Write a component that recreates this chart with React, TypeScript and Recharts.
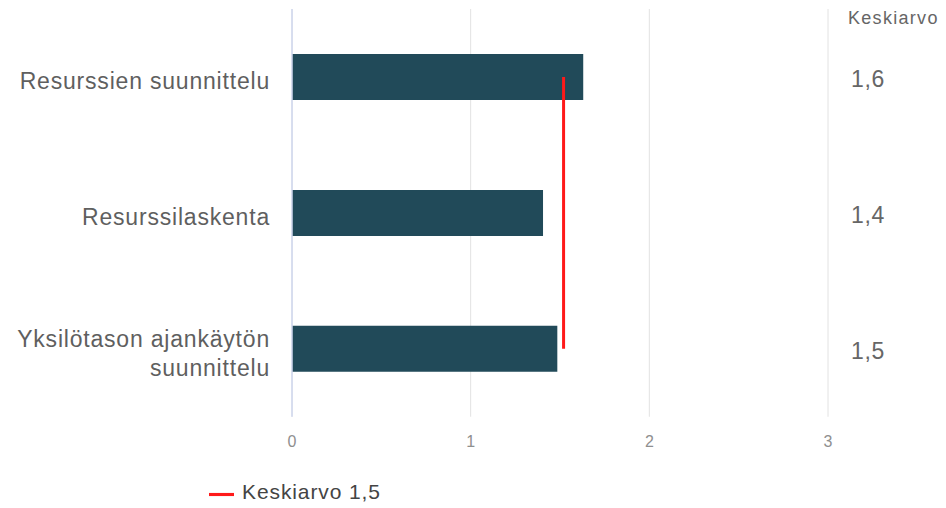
import React from 'react'
import {
  ComposedChart, Bar, Line, XAxis, YAxis, CartesianGrid, Legend
} from 'recharts'

const categories = [
  'Resurssien suunnittelu',
  'Resurssilaskenta',
  'Yksilötason ajankäytön suunnittelu',
]
const scores = [1.63, 1.405, 1.485]
const overallAverage = 1.52
const xTicks = [0, 1, 2, 3]

const chartData = categories.map((name, i) => ({
  name,
  value: scores[i],
  avg: overallAverage,
}))

const FONT = '"Liberation Sans", Arial, sans-serif'
const fmt = (v: number) => v.toFixed(1).replace('.', ',')

// simple greedy wrap by character count
const wrap = (s: string, max: number) => {
  const lines: string[] = []
  let cur = ''
  s.split(' ').forEach((w) => {
    const next = cur ? cur + ' ' + w : w
    if (next.length > max && cur) {
      lines.push(cur)
      cur = w
    } else {
      cur = next
    }
  })
  if (cur) lines.push(cur)
  return lines
}

const CategoryTick = (props: any) => {
  const { x, y, payload } = props
  const lines = wrap(String(payload.value), 24)
  const lh = 29
  const start = y + 4 - ((lines.length - 1) * lh) / 2
  return (
    <text
      x={x - 14}
      textAnchor="end"
      style={{ fontFamily: FONT, fontSize: 23, letterSpacing: 0.8, fill: '#5f5f5f' }}
    >
      {lines.map((l, i) => (
        <tspan key={i} x={x - 14} y={start + i * lh} dy="0.36em">{l}</tspan>
      ))}
    </text>
  )
}

const AvgTick = (props: any) => {
  const { x, y, index } = props
  return (
    <text
      x={x}
      y={y + 2}
      dy="0.36em"
      textAnchor="start"
      style={{ fontFamily: FONT, fontSize: 23, letterSpacing: 0.6, fill: '#666' }}
    >
      {fmt(scores[index] ?? 0)}
    </text>
  )
}

const HeaderLabel = (props: any) => {
  const { viewBox } = props
  return (
    <text
      x={viewBox.x + 20}
      y={viewBox.y + 15}
      style={{ fontFamily: FONT, fontSize: 18, letterSpacing: 1.3, fill: '#666' }}
    >
      Keskiarvo
    </text>
  )
}

export default function App() {
  return (
    <div
      style={{
        position: 'absolute',
        left: 0,
        top: 0,
        width: 946,
        height: 508,
        background: '#fff',
        fontFamily: FONT,
      }}
    >
      <ComposedChart
        width={946}
        height={508}
        data={chartData}
        layout="vertical"
        margin={{ top: 9, right: 0, left: 0, bottom: 1 }}
        style={{ fontFamily: FONT }}
      >
        <CartesianGrid horizontal={false} stroke="#e2e2e2" />
        <XAxis
          type="number"
          domain={[0, 3]}
          ticks={xTicks}
          axisLine={false}
          tickLine={false}
          tickMargin={13}
          height={63}
          tick={{ fontSize: 16, fill: '#8f8f8f', fontFamily: FONT }}
        />
        <YAxis
          type="category"
          dataKey="name"
          width={292}
          axisLine={{ stroke: '#cfd7ee', strokeWidth: 1.5 }}
          tickLine={false}
          tick={<CategoryTick />}
        />
        <YAxis
          yAxisId="right"
          orientation="right"
          type="category"
          dataKey="name"
          width={118}
          axisLine={false}
          tickLine={false}
          tickMargin={17}
          tick={<AvgTick />}
          label={<HeaderLabel />}
        />
        <Legend
          verticalAlign="bottom"
          align="left"
          iconType="plainline"
          iconSize={25}
          wrapperStyle={{ left: 209 }}
          formatter={(v: string) => (
            <span style={{ color: '#444', fontFamily: FONT, fontSize: 21, letterSpacing: 0.9, marginLeft: 4 }}>{v}</span>
          )}
        />
        <Bar
          dataKey="value"
          fill="#214a59"
          barSize={46}
          legendType="none"
          isAnimationActive={false}
        />
        <Line
          yAxisId="right"
          dataKey="avg"
          name="Keskiarvo 1,5"
          stroke="#ff1a1a"
          strokeWidth={3}
          dot={false}
          activeDot={false}
          isAnimationActive={false}
        />
      </ComposedChart>
    </div>
  )
}
